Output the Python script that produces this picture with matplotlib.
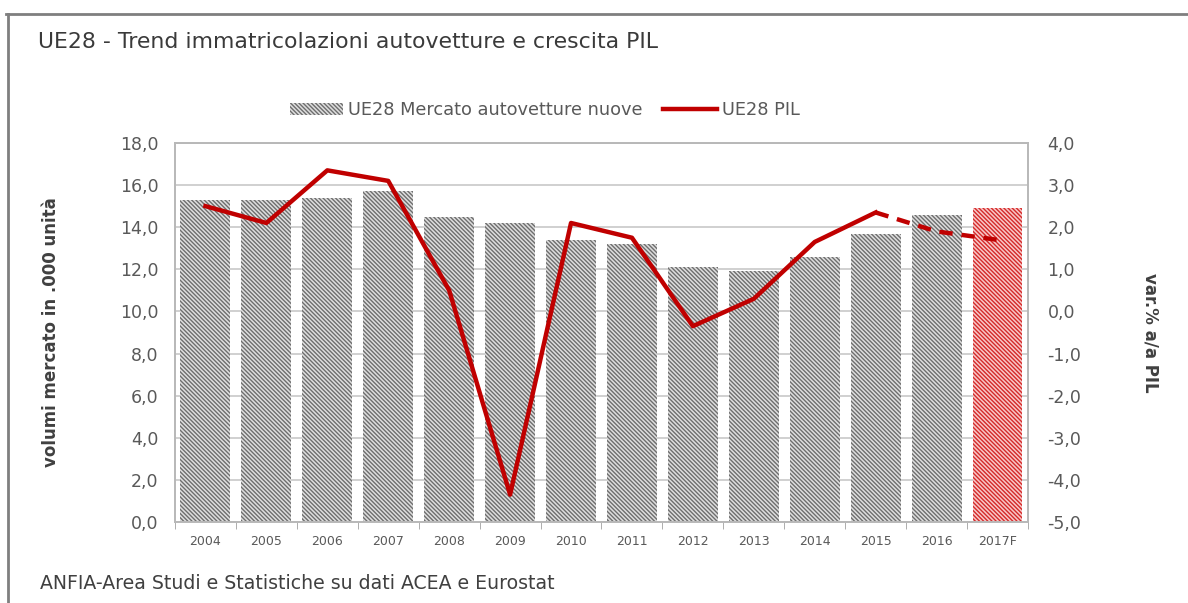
import matplotlib
matplotlib.use("Agg")
import matplotlib.pyplot as plt
from matplotlib.lines import Line2D
from matplotlib.patches import Patch
import numpy as np

years = ["2004", "2005", "2006", "2007", "2008", "2009", "2010", "2011",
         "2012", "2013", "2014", "2015", "2016", "2017F"]
market = [15.3, 15.3, 15.4, 15.7, 14.5, 14.2, 13.4, 13.2, 12.1, 11.9, 12.6, 13.7, 14.6, 14.9]
gdp = [2.5, 2.1, 3.35, 3.1, 0.5, -4.35, 2.1, 1.75, -0.35, 0.3, 1.65, 2.35, 1.9, 1.7]
left_ticks = [0, 2, 4, 6, 8, 10, 12, 14, 16, 18]
right_ticks = [-5, -4, -3, -2, -1, 0, 1, 2, 3, 4]

plt.rcParams['font.family'] = ['DejaVu Sans']
plt.rcParams['hatch.linewidth'] = 1.0

fig = plt.figure(figsize=(11.88, 6.03), dpi=100)
ax = fig.add_axes([0.1473, 0.1343, 0.718, 0.6286])
ax2 = ax.twinx()

x = np.arange(len(years))
grey_face = '#dedede'
grey_hatch = '#6e6e6e'
red_face = '#f8c8c8'
red_hatch = '#d42a2a'
HATCH = '\\' * 8

for i, v in enumerate(market):
    fc, hc = (red_face, red_hatch) if i == len(market) - 1 else (grey_face, grey_hatch)
    ax.bar(x[i], v, width=0.82, facecolor=fc, edgecolor=hc, hatch=HATCH, linewidth=0, zorder=2)

ax.set_ylim(0, 18)
ax.set_xlim(-0.5, len(years) - 0.5)
ax.set_yticks(left_ticks)
ax.set_yticklabels([f"{t:.1f}".replace('.', ',') for t in left_ticks])
ax.grid(axis='y', color='#c8c8c8', linewidth=1.2, zorder=0)
ax.set_axisbelow(True)
ax.set_xticks(x)
ax.set_xticklabels(years)
ax.set_xticks(np.arange(-0.5, len(years), 1), minor=True)
ax.tick_params(axis='x', which='major', length=0, labelsize=9, colors='#595959', pad=9)
ax.tick_params(axis='x', which='minor', length=5, color='#a0a0a0', direction='out')
ax.tick_params(axis='y', length=0, labelsize=12.5, colors='#595959', pad=12)

for s in ['left', 'right', 'top', 'bottom']:
    ax.spines[s].set_color('#b8b8b8')
    ax.spines[s].set_linewidth(1.2)
    ax2.spines[s].set_color('#b8b8b8')
    ax2.spines[s].set_linewidth(1.2)

ax2.plot(x[:12], gdp[:12], color='#c00000', linewidth=3.2, solid_joinstyle='round', zorder=3)
ax2.plot(x[11:], gdp[11:], color='#c00000', linewidth=3.2, linestyle=(0, (3, 2)), zorder=3)
ax2.set_ylim(-5, 4)
ax2.set_yticks(right_ticks)
ax2.set_yticklabels([f"{t:.1f}".replace('.', ',') for t in right_ticks])
ax2.tick_params(axis='y', length=0, labelsize=12.5, colors='#595959', pad=14)

ax.set_ylabel("volumi mercato in .000 unità", fontsize=12, fontweight='bold', color='#404040', labelpad=43)
ax2.set_ylabel("var.% a/a PIL", fontsize=12, fontweight='bold', color='#404040', rotation=-90, labelpad=56)

fig.text(0.032, 0.93, "UE28 - Trend immatricolazioni autovetture e crescita PIL",
         fontsize=15.8, color='#3a3a3a', va='center', ha='left')
fig.text(0.034, 0.033, "ANFIA-Area Studi e Statistiche su dati ACEA e Eurostat",
         fontsize=13.6, color='#404040', va='center', ha='left')

handles = [Patch(facecolor=grey_face, edgecolor=grey_hatch, hatch=HATCH, linewidth=0),
           Line2D([0], [0], color='#c00000', linewidth=3.2)]
labels = ["UE28 Mercato autovetture nuove", "UE28 PIL"]
fig.legend(handles, labels, loc='center', bbox_to_anchor=(0.4585, 0.817), ncol=2, frameon=False,
           fontsize=12.8, labelcolor='#595959', columnspacing=1.15, handlelength=3.0, handletextpad=0.3)

# outer frame
fig.add_artist(Line2D([0.005, 1.0], [0.977, 0.977], transform=fig.transFigure, color='#7f7f7f', linewidth=2))
fig.add_artist(Line2D([0.0065, 0.0065], [0.0, 0.977], transform=fig.transFigure, color='#7f7f7f', linewidth=2))

fig.savefig("out.png", dpi=100)
